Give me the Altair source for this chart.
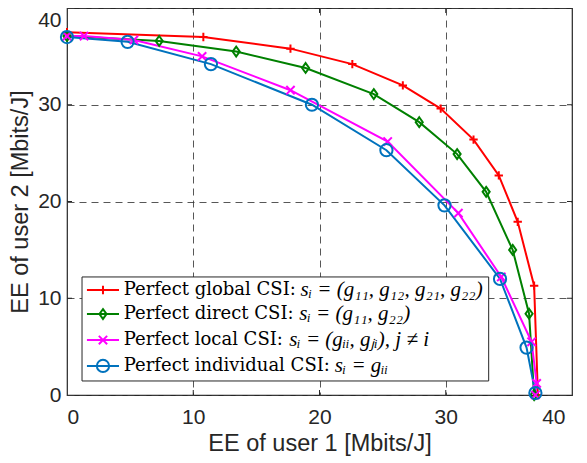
import altair as alt
import pandas as pd

series_names = ["global", "direct", "local", "individual"]
colors = ["#FF0000", "#008000", "#FF00FF", "#0072BD"]

global_x = [0.0, 10.8, 17.7, 22.6, 26.6, 29.6, 32.2, 34.2, 35.7, 37.0, 37.3]
global_y = [37.5, 37.0, 35.8, 34.2, 32.0, 29.6, 26.4, 22.7, 17.9, 11.3, 0.0]

direct_x = [0.0, 7.3, 13.4, 18.9, 24.3, 27.9, 30.9, 33.2, 35.3, 36.6, 37.0]
direct_y = [37.1, 36.6, 35.5, 33.8, 31.1, 28.2, 24.9, 21.0, 15.0, 8.4, 0.0]

local_x = [0.0, 1.35, 5.3, 10.7, 17.7, 25.4, 31.0, 34.4, 36.8, 37.2, 37.1]
local_y = [37.1, 37.1, 36.7, 35.0, 31.5, 26.2, 18.8, 12.2, 5.5, 1.2, 0.0]

indiv_x = [0.0, 4.8, 11.4, 19.4, 25.3, 29.9, 34.3, 36.4, 37.1]
indiv_y = [37.0, 36.5, 34.2, 30.0, 25.3, 19.6, 12.0, 4.9, 0.2]

legend_text = ["Perfect global CSI:", "Perfect direct CSI:", "Perfect local CSI:", "Perfect individual CSI:"]
legend_math = ["sᵢ = (g₁₁, g₁₂, g₂₁, g₂₂)", "sᵢ = (g₁₁, g₂₂)", "sᵢ = (gᵢᵢ, gⱼᵢ), j ≠ i", "sᵢ = gᵢᵢ"]

tick_vals = [10, 20, 30]

rows = []
for name, xs, ys in [("global", global_x, global_y), ("direct", direct_x, direct_y),
                     ("local", local_x, local_y), ("individual", indiv_x, indiv_y)]:
    for i, (a, b) in enumerate(zip(xs, ys)):
        rows.append({"series": name, "x": a, "y": b, "order": i})
df = pd.DataFrame(rows)

W, H = 505, 387

# legend layout (in data units)
leg_y = [10.85, 8.37, 5.68, 3.0]
leg_math_x = [18.5, 18.4, 17.6, 21.2]
leg = pd.DataFrame({
    "series": series_names,
    "y": leg_y,
    "x1": [1.58] * 4,
    "x2": [4.12] * 4,
    "xm": [2.85] * 4,
    "xt": [4.5] * 4,
    "xmath": leg_math_x,
    "text": legend_text,
    "math": legend_math,
})

shapes = ["M-1,0L1,0M0,-1L0,1", "M0,-1L0.72,0L0,1L-0.72,0Z",
          "M-0.75,-0.75L0.75,0.75M0.75,-0.75L-0.75,0.75", "circle"]

color_scale = alt.Scale(domain=series_names, range=colors)
shape_scale = alt.Scale(domain=series_names, range=shapes)
size_scale = alt.Scale(domain=series_names, range=[70, 150, 100, 110])

xscale = alt.Scale(domain=[0, 40], nice=False)
yscale = alt.Scale(domain=[0, 40], nice=False)

common = dict(grid=True, gridDash=[7, 5], gridColor="#3a3a3a", gridOpacity=0.85, gridWidth=1,
              domain=False, ticks=False, labelFontSize=21, titleFontSize=23.5,
              labelFont="Liberation Sans", titleFont="Liberation Sans", titleFontWeight="normal",
              labelColor="#262626", titleColor="#262626")
xaxis = alt.Axis(values=[0, 10, 20, 30, 40], title="EE of user 1 [Mbits/J]",
                 labelPadding=11, titlePadding=4,
                 labelOffset={"condition": {"test": "datum.value == 40", "value": -7}, "value": 0},
                 **common)
yaxis = alt.Axis(values=[0, 10, 20, 30, 40], title="EE of user 2 [Mbits/J]",
                 labelPadding=6, titlePadding=5,
                 labelOffset={"condition": {"test": "datum.value == 40", "value": 12}, "value": 0},
                 **common)

base = alt.Chart(df)
lines = base.mark_line(strokeWidth=2, clip=True).encode(
    x=alt.X("x:Q", scale=xscale, axis=xaxis),
    y=alt.Y("y:Q", scale=yscale, axis=yaxis),
    color=alt.Color("series:N", scale=color_scale, legend=None),
    detail="series:N",
    order="order:Q",
)
points = base.mark_point(filled=False, strokeWidth=2, opacity=1).encode(
    x="x:Q", y="y:Q",
    color=alt.Color("series:N", scale=color_scale, legend=None),
    shape=alt.Shape("series:N", scale=shape_scale, legend=None),
    size=alt.Size("series:N", scale=size_scale, legend=None),
)

ticks_df = pd.DataFrame({"v": tick_vals})
tb = alt.Chart(ticks_df).mark_rule(color="#262626", strokeWidth=1).encode(
    x="v:Q", y=alt.value(H), y2=alt.value(H - 5))
tt = alt.Chart(ticks_df).mark_rule(color="#262626", strokeWidth=1).encode(
    x="v:Q", y=alt.value(0), y2=alt.value(5))
tl = alt.Chart(ticks_df).mark_rule(color="#262626", strokeWidth=1).encode(
    y="v:Q", x=alt.value(0), x2=alt.value(5))
tr = alt.Chart(ticks_df).mark_rule(color="#262626", strokeWidth=1).encode(
    y="v:Q", x=alt.value(W), x2=alt.value(W - 5))

box = alt.Chart(pd.DataFrame({"a": [0]})).mark_rect(fill="white", stroke="#262626", strokeWidth=1).encode(
    x=alt.datum(1.19), x2=alt.datum(33.4), y=alt.datum(1.45), y2=alt.datum(12.2))

lb = alt.Chart(leg)
leg_lines = lb.mark_rule(strokeWidth=2).encode(
    x="x1:Q", x2="x2:Q", y="y:Q",
    color=alt.Color("series:N", scale=color_scale, legend=None))
leg_pts = lb.mark_point(filled=False, strokeWidth=2, opacity=1).encode(
    x="xm:Q", y="y:Q",
    color=alt.Color("series:N", scale=color_scale, legend=None),
    shape=alt.Shape("series:N", scale=shape_scale, legend=None),
    size=alt.Size("series:N", scale=size_scale, legend=None))
leg_txt = lb.mark_text(align="left", baseline="middle", font="DejaVu Serif", fontSize=18,
                       color="#000").encode(x="xt:Q", y="y:Q", text="text:N")
leg_math_t = lb.mark_text(align="left", baseline="middle", font="Liberation Serif", fontSize=21,
                          fontStyle="italic", color="#000").encode(x="xmath:Q", y="y:Q", text="math:N")

chart = alt.layer(lines, points, tb, tt, tl, tr, box, leg_lines, leg_pts, leg_txt, leg_math_t).properties(
    width=W, height=H,
    autosize=alt.AutoSizeParams(type="none"),
    padding={"left": 59, "top": 0, "right": 7, "bottom": 66},
).configure_view(stroke="#262626", strokeWidth=1.2)

chart.save("out.html", embed_options={"renderer": "svg", "actions": False})
